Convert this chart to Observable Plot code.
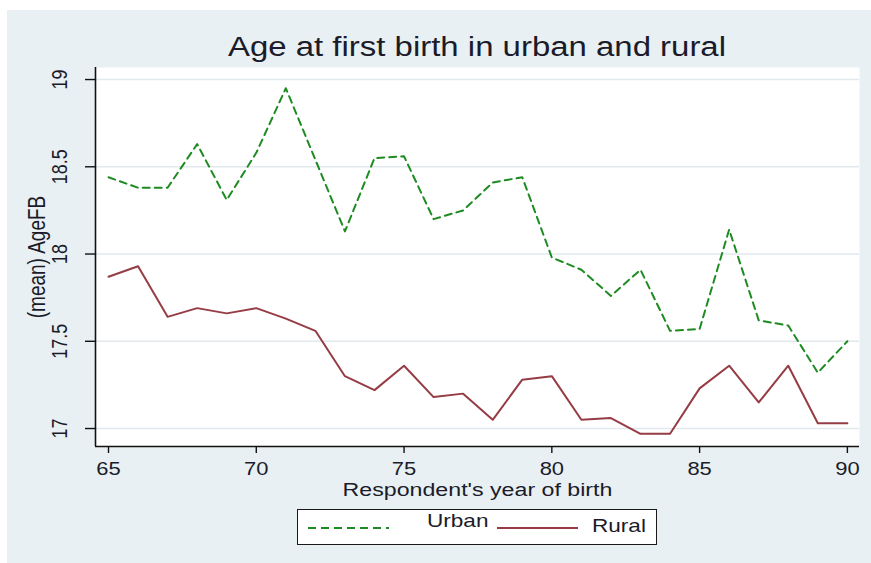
<!DOCTYPE html>
<html>
<head>
<meta charset="utf-8">
<script src="https://cdn.jsdelivr.net/npm/d3@7"></script>
<script src="https://cdn.jsdelivr.net/npm/@observablehq/plot@0.6"></script>
<style>
  html, body { margin: 0; padding: 0; background: #ffffff; }
  body { width: 871px; height: 563px; position: relative; overflow: hidden; font-family: "Liberation Sans", Arial, sans-serif; }
  #panel { position: absolute; left: 7px; top: 10px; width: 864px; height: 553px; background: #e8f0f3; }
  #chart { position: absolute; left: 0; top: 0; }
  #title { position: absolute; left: 0; top: 22px; width: 940px; text-align: center; font-size: 27px; line-height: 30px; color: #1b1b2a; transform: scaleX(1.22); transform-origin: 470px 0; white-space: nowrap; }
  #legend { position: absolute; left: 290px; top: 499px; width: 360px; height: 36px; box-sizing: border-box; border: 1.5px solid #1a1a1a; background: #ffffff; }
  #legend svg { position: absolute; left: 0; top: 0; }
  .lg { position: absolute; font-size: 18.5px; line-height: 20px; color: #1b1b2a; transform: scaleX(1.22); transform-origin: 0 0; white-space: nowrap; }
</style>
</head>
<body>
<div id="panel">
  <div id="chart"></div>
  <div id="title"></div>
  <div id="legend"></div>
</div>
<script>
// ---- data ----
const years = [65,66,67,68,69,70,71,72,73,74,75,76,77,78,79,80,81,82,83,84,85,86,87,88,89,90];
const urban = [18.44,18.38,18.38,18.63,18.31,18.58,18.95,18.54,18.13,18.55,18.56,18.20,18.25,18.41,18.44,17.98,17.91,17.76,17.91,17.56,17.57,18.14,17.62,17.59,17.32,17.50];
const rural = [17.87,17.93,17.64,17.69,17.66,17.69,17.63,17.56,17.30,17.22,17.36,17.18,17.20,17.05,17.28,17.30,17.05,17.06,16.97,16.97,17.23,17.36,17.15,17.36,17.03,17.03];
const seriesNames = ["Urban", "Rural"];
const xTicks = [65,70,75,80,85,90];
const yTicks = [17,17.5,18,18.5,19];
const titleText = "Age at first birth in urban and rural";
const xLabel = "Respondent's year of birth";
const yLabel = "(mean) AgeFB";

// ---- styling ----
const colors = {Urban: "#1e8b22", Rural: "#953c44"};
const dash = "7,5";
const stretch = 1.22;
const textColor = "#1b1b2a";
const xDomain = [64.56, 90.41];
const yDomain = [16.897, 19.069];

const rows = [];
years.forEach((yr, i) => {
  rows.push({year: yr, value: urban[i], series: seriesNames[0]});
  rows.push({year: yr, value: rural[i], series: seriesNames[1]});
});

const svg = Plot.plot({
  width: 864,
  height: 500,
  marginLeft: 88,
  marginRight: 12,
  marginTop: 57,
  marginBottom: 64,
  style: {background: "transparent", fontFamily: "'Liberation Sans', Arial, sans-serif", color: textColor, overflow: "visible"},
  x: {domain: xDomain},
  y: {domain: yDomain},
  marks: [
    Plot.frame({fill: "white", stroke: "none"}),
    Plot.gridY(yTicks, {stroke: "#e1e9ed", strokeOpacity: 1, strokeWidth: 1.6}),
    Plot.line(rows.filter(d => d.series === "Urban"), {x: "year", y: "value", stroke: colors.Urban, strokeWidth: 2, strokeDasharray: dash}),
    Plot.line(rows.filter(d => d.series === "Rural"), {x: "year", y: "value", stroke: colors.Rural, strokeWidth: 2}),
    Plot.ruleX([xDomain[0]], {stroke: "#111", strokeWidth: 1.6}),
    Plot.ruleY([yDomain[0]], {stroke: "#111", strokeWidth: 1.6}),
    Plot.axisX(xTicks, {tickSize: 7, tickPadding: 9, fontSize: 18, stroke: "#111", strokeWidth: 1.4, label: null, tickFormat: d => String(d), fill: textColor}),
    Plot.axisY(yTicks, {tickSize: 10, tickPadding: 19, tickRotate: -90, textAnchor: "middle", fontSize: 18, stroke: "#111", strokeWidth: 1.4, label: null, tickFormat: d => String(d), fill: textColor}),
    Plot.text([xLabel], {frameAnchor: "bottom", dy: 43, lineAnchor: "middle", fontSize: 19, fill: textColor}),
    Plot.text([yLabel], {frameAnchor: "left", dx: -58, rotate: -90, lineAnchor: "middle", textAnchor: "middle", fontSize: 19, fill: textColor})
  ]
});

// horizontal stretch of the text, as in the reference picture
svg.querySelectorAll("text").forEach(t => {
  const tr = t.getAttribute("transform");
  if (tr && tr.startsWith("translate(")) {
    const i = tr.indexOf(")") + 1;
    t.setAttribute("transform", tr.slice(0, i) + ` scale(${stretch},1)` + tr.slice(i));
  } else {
    const x = +(t.getAttribute("x") || 0), y = +(t.getAttribute("y") || 0);
    t.removeAttribute("x"); t.removeAttribute("y");
    t.setAttribute("transform", `translate(${x},${y}) scale(${stretch},1)` + (tr ? " " + tr : ""));
  }
});
document.getElementById("chart").appendChild(svg);
document.getElementById("title").textContent = titleText;

// legend
const lg = document.getElementById("legend");
const ns = "http://www.w3.org/2000/svg";
const lsvg = document.createElementNS(ns, "svg");
lsvg.setAttribute("width", 357); lsvg.setAttribute("height", 33);
const mk = (x1, x2, color, da) => {
  const l = document.createElementNS(ns, "line");
  l.setAttribute("x1", x1); l.setAttribute("x2", x2);
  l.setAttribute("y1", 18); l.setAttribute("y2", 18);
  l.setAttribute("stroke", color); l.setAttribute("stroke-width", 2);
  if (da) l.setAttribute("stroke-dasharray", "8,5");
  lsvg.appendChild(l);
};
mk(10, 91, colors.Urban, true);
mk(199, 280, colors.Rural, false);
lg.appendChild(lsvg);
const lab = (txt, x, y) => {
  const s = document.createElement("div");
  s.className = "lg"; s.textContent = txt;
  s.style.left = x + "px"; s.style.top = y + "px";
  lg.appendChild(s);
};
lab(seriesNames[0], 129, 1);
lab(seriesNames[1], 294, 6);
</script>
</body>
</html>
